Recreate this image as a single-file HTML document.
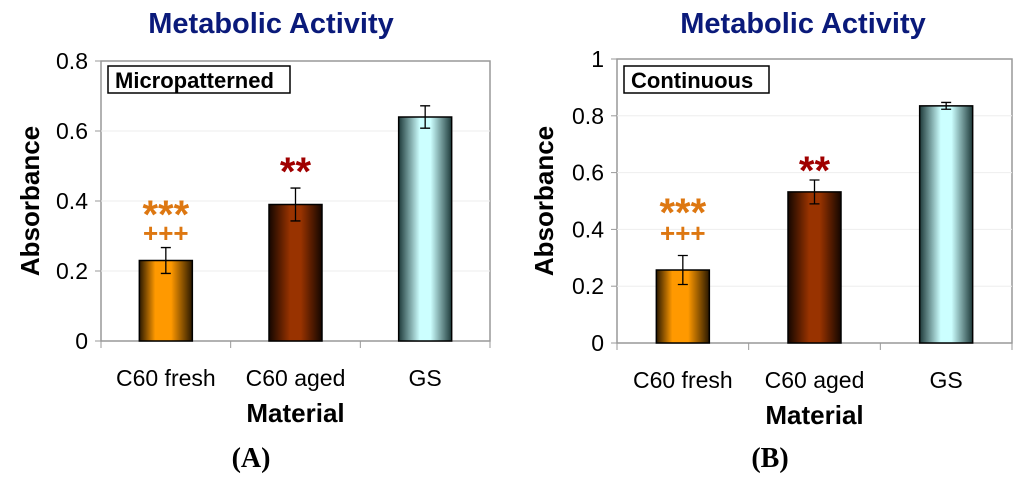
<!DOCTYPE html>
<html><head><meta charset="utf-8"><style>
body{margin:0;background:#fff;width:1024px;height:483px;overflow:hidden}
svg text{font-family:"Liberation Sans",sans-serif}
</style></head><body>
<svg id="s" width="1024" height="483" xmlns="http://www.w3.org/2000/svg">
<defs>
<linearGradient id="gO" x1="0" x2="1"><stop offset="0" stop-color="#2a1800"/><stop offset="0.3" stop-color="#ff9900"/><stop offset="0.6" stop-color="#ff9900"/><stop offset="1" stop-color="#2a1800"/></linearGradient>
<linearGradient id="gB" x1="0" x2="1"><stop offset="0" stop-color="#140600"/><stop offset="0.4" stop-color="#993300"/><stop offset="0.6" stop-color="#993300"/><stop offset="1" stop-color="#140600"/></linearGradient>
<linearGradient id="gC" x1="0" x2="1"><stop offset="0" stop-color="#1e3a3a"/><stop offset="0.4" stop-color="#ccffff"/><stop offset="0.6" stop-color="#ccffff"/><stop offset="1" stop-color="#1e3a3a"/></linearGradient>
</defs>
</svg>
<script>
const categories=["C60 fresh","C60 aged","GS"];
const valuesA=[0.23,0.39,0.64];
const errA=[0.037,0.047,0.032];
const ticksA=[0,0.2,0.4,0.6,0.8];
const valuesB=[0.257,0.532,0.835];
const errB=[0.051,0.042,0.012];
const ticksB=[0,0.2,0.4,0.6,0.8,1];
const fills=["url(#gO)","url(#gB)","url(#gC)"];
const svg=document.getElementById('s');
const NS="http://www.w3.org/2000/svg";
function mk(tag,at,txt){const e=document.createElementNS(NS,tag);for(const k in at)e.setAttribute(k,at[k]);if(txt!==undefined)e.textContent=txt;svg.appendChild(e);return e;}
function chart(o){
 const L=o.L,R=o.R,T=o.T,B=o.B,max=o.max;
 const y=v=>B-(v/max)*(B-T);
 const cw=(R-L)/categories.length;
 const x=i=>L+cw*(i+0.5);
 let t=mk('text',{x:o.tx,y:33,'font-size':29,'font-weight':'bold',fill:'#0a1a7a','text-anchor':'middle'},'Metabolic Activity');
 
 let r=mk('rect',{x:L,y:T,width:R-L,height:B-T,fill:'#fff',stroke:'#999','stroke-width':1.5});
 
 o.ticks.forEach(v=>{
  if(v>0&&v<max){let g=mk('line',{x1:L,x2:R,y1:y(v),y2:y(v),stroke:'#eee'});}
  let tk=mk('line',{x1:L-6,x2:L,y1:y(v),y2:y(v),stroke:'#999'});
  let tl=mk('text',{x:L-13,y:y(v)+8,'font-size':23,'text-anchor':'end'},String(v));
  
 });
 for(let i=0;i<=categories.length;i++){let tk=mk('line',{x1:L+cw*i,x2:L+cw*i,y1:B,y2:B+7,stroke:'#999'});}
 categories.forEach((c,i)=>{
  const v=o.vals[i],e=o.errs[i],bw=53;
  let b=mk('rect',{x:x(i)-bw/2,y:y(v),width:bw,height:B-y(v),fill:fills[i],stroke:'#000','stroke-width':1.5});
  
  let eb=mk('path',{d:`M${x(i)},${y(v+e)}V${y(v-e)}M${x(i)-5},${y(v+e)}h10M${x(i)-5},${y(v-e)}h10`,stroke:'#000','stroke-width':1.3,fill:'none'});
  
  let cl=mk('text',{x:x(i),y:B+45,'font-size':23,'text-anchor':'middle'},c);
  
 });
 let s1=mk('text',{x:x(0),y:o.plusY,'font-size':26,'font-weight':'bold',fill:'#dd7711','text-anchor':'middle'},'+++');
 
 let s2=mk('text',{x:x(0),y:o.starY,'font-size':40,'font-weight':'bold',fill:'#dd7711','text-anchor':'middle'},'***');
 
 let s3=mk('text',{x:x(1),y:o.star2Y,'font-size':40,'font-weight':'bold',fill:'#a00000','text-anchor':'middle'},'**');
 
 let lb=mk('rect',{x:L+7,y:66,width:o.lw,height:27,fill:'#fff',stroke:'#000','stroke-width':1.5});
 
 let lt=mk('text',{x:L+14,y:88,'font-size':o.lf,'font-weight':'bold'},o.label);
 
 let ya=mk('text',{x:0,y:0,'font-size':26,'font-weight':'bold','text-anchor':'middle',transform:`translate(${o.ax},${(T+B)/2}) rotate(-90)`},'Absorbance');
 
 let xa=mk('text',{x:(L+R)/2,y:B+81,'font-size':26,'font-weight':'bold','text-anchor':'middle'},'Material');
 
 let pl=mk('text',{x:o.px,y:467,'font-size':28,'font-weight':'bold','text-anchor':'middle',style:'font-family:"Liberation Serif",serif'},o.pan);
 
}
chart({id:'a',L:101,R:490,T:61,B:341,max:0.8,ticks:ticksA,vals:valuesA,errs:errA,label:'Micropatterned',lw:182,lf:22,pan:'(A)',px:251,tx:271,ax:39,starY:228,plusY:242,star2Y:185});
chart({id:'b',L:617,R:1012,T:59,B:343,max:1,ticks:ticksB,vals:valuesB,errs:errB,label:'Continuous',lw:145,lf:22,pan:'(B)',px:770,tx:803,ax:553,starY:226,plusY:242,star2Y:184});
</script>
</body></html>
